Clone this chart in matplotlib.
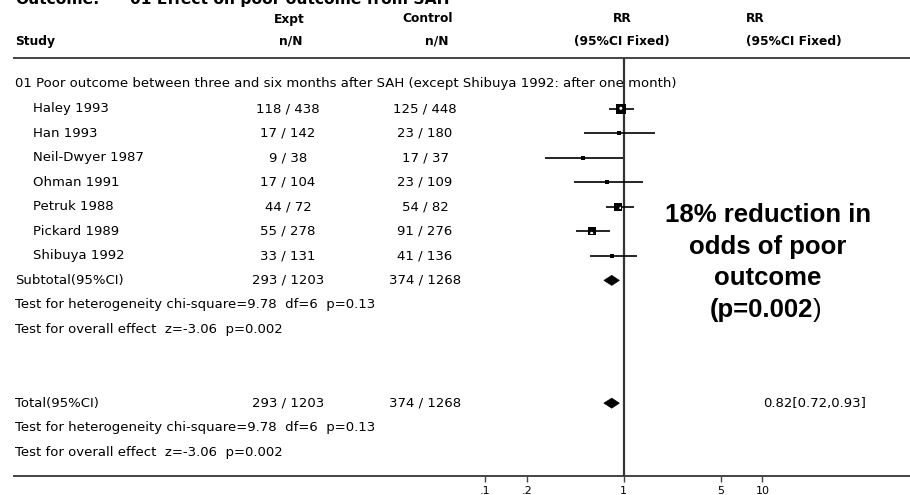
import matplotlib.pyplot as plt

# ---- data ----
studies = ['Haley 1993', 'Han 1993', 'Neil-Dwyer 1987', 'Ohman 1991',
           'Petruk 1988', 'Pickard 1989', 'Shibuya 1992']
expt = ['118 / 438', '17 / 142', '9 / 38', '17 / 104', '44 / 72', '55 / 278', '33 / 131']
control = ['125 / 448', '23 / 180', '17 / 37', '23 / 109', '54 / 82', '91 / 276', '41 / 136']
rr = [0.96, 0.93, 0.51, 0.76, 0.91, 0.59, 0.82]
rr_lo = [0.78, 0.52, 0.27, 0.44, 0.74, 0.45, 0.57]
rr_hi = [1.19, 1.68, 0.99, 1.37, 1.19, 0.80, 1.25]
box_size = [10, 5, 4.5, 5, 8, 7.5, 4.5]  # box width in px (weight)
hatched = [True, False, False, False, True, True, False]

pooled = [0.82, 0.72, 0.93]  # RR, lo, hi
expt_total = '293 / 1203'
control_total = '374 / 1268'
hetero_txt = 'Test for heterogeneity chi-square=9.78  df=6  p=0.13'
overall_txt = 'Test for overall effect  z=-3.06  p=0.002'
group_txt = '01 Poor outcome between three and six months after SAH (except Shibuya 1992: after one month)'
xticks = [0.1, 0.2, 1, 5, 10]
xtick_labels = ['.1', '.2', '1', '5', '10']

W, H = 910, 495
ROW0, STEP = 84, 24.55  # pixel y of first body row, row spacing


def row_y(i):
    return ROW0 + i * STEP


body = {'family': 'DejaVu Sans', 'fontsize': 9.5, 'va': 'center'}
head = {'family': 'DejaVu Sans', 'fontsize': 8.8, 'fontweight': 'bold', 'va': 'center'}

fig = plt.figure(figsize=(W / 100, H / 100), dpi=100)
ax = fig.add_axes([0, 0, 1, 1])
ax.set_xlim(0, W)
ax.set_ylim(H, 0)
ax.axis('off')

# title (cut off at top as in the reference)
ax.text(15, 4, 'Outcome:', family='DejaVu Sans', fontsize=11.2, fontweight='bold', va='baseline')
ax.text(130, 4, '01 Effect on poor outcome from SAH', family='DejaVu Sans', fontsize=11.2,
        fontweight='bold', va='baseline')

# header
ax.text(289, 19, 'Expt', ha='center', **head)
ax.text(291, 41, 'n/N', ha='center', **head)
ax.text(428, 19, 'Control', ha='center', **head)
ax.text(437, 41, 'n/N', ha='center', **head)
ax.text(15, 41, 'Study', ha='left', **head)
ax.text(622, 19, 'RR', ha='center', **head)
ax.text(622, 41, '(95%CI Fixed)', ha='center', **head)
ax.text(746, 19, 'RR', ha='left', **head)
ax.text(746, 41, '(95%CI Fixed)', ha='left', **head)
ax.hlines(58, 13, W, color='#444444', lw=1.4)
ax.hlines(476, 13, W, color='#444444', lw=1.4)

# body text
ax.text(15, row_y(0), group_txt, ha='left', **body)
for i, s in enumerate(studies):
    y = row_y(i + 1)
    ax.text(33, y, s, ha='left', **body)
    ax.text(288, y, expt[i], ha='center', **body)
    ax.text(425, y, control[i], ha='center', **body)
n = len(studies)
ax.text(15, row_y(n + 1), 'Subtotal(95%CI)', ha='left', **body)
ax.text(288, row_y(n + 1), expt_total, ha='center', **body)
ax.text(425, row_y(n + 1), control_total, ha='center', **body)
ax.text(15, row_y(n + 2), hetero_txt, ha='left', **body)
ax.text(15, row_y(n + 3), overall_txt, ha='left', **body)

ax.text(15, row_y(n + 6), 'Total(95%CI)', ha='left', **body)
ax.text(288, row_y(n + 6), expt_total, ha='center', **body)
ax.text(425, row_y(n + 6), control_total, ha='center', **body)
ax.text(763, row_y(n + 6), '%.2f[%.2f,%.2f]' % tuple(pooled), ha='left', **body)
ax.text(15, row_y(n + 7), hetero_txt, ha='left', **body)
ax.text(15, row_y(n + 8), overall_txt, ha='left', **body)

# annotation
ann = {'family': 'Liberation Sans', 'fontsize': 18.5, 'fontweight': 'bold', 'va': 'center'}
ax.text(768, 215, '18% reduction in', ha='center', **ann)
ax.text(768, 247, 'odds of poor', ha='center', **ann)
ax.text(768, 278, 'outcome', ha='center', **ann)
ax.text(813, 310, '(p=0.002', ha='right', **ann)
ax.text(813, 310, ')', ha='left', family='Liberation Sans', fontsize=18.5, va='center')

# forest plot axes (log scale)
fa = fig.add_axes([485 / W, (H - 476) / H, (762.4 - 485) / W, 476 / H])
fa.set_xscale('log')
fa.set_xlim(0.1, 10)
fa.set_ylim(476, 0)
fa.patch.set_visible(False)
for sp in fa.spines.values():
    sp.set_visible(False)
fa.set_yticks([])
fa.set_xticks(xticks)
fa.set_xticklabels(xtick_labels)
fa.minorticks_off()
fa.tick_params(axis='x', length=4.5, width=1, pad=3, labelsize=8, color='#444444')

fa.vlines(1, 58, 476, color='#333333', lw=1.6)

for i in range(n):
    y = row_y(i + 1)
    fa.hlines(y, rr_lo[i], rr_hi[i], color='black', lw=1.2)
    s = (box_size[i] * 0.72) ** 2
    fa.scatter([rr[i]], [y], marker='s', s=s, color='black', linewidth=0, zorder=3)
    if hatched[i]:
        # dotted interior like the original RevMan boxes
        fa.scatter([rr[i]], [y], marker='s', s=s * 0.45, facecolor='none', edgecolor='white',
                   hatch='..', linewidth=0, zorder=4)

for yi in (row_y(n + 1), row_y(n + 6)):
    fa.fill([pooled[1], pooled[0], pooled[2], pooled[0]],
            [yi, yi - 5, yi, yi + 5], color='black', lw=0.5, zorder=3)

fig.savefig('out.png', dpi=100)
